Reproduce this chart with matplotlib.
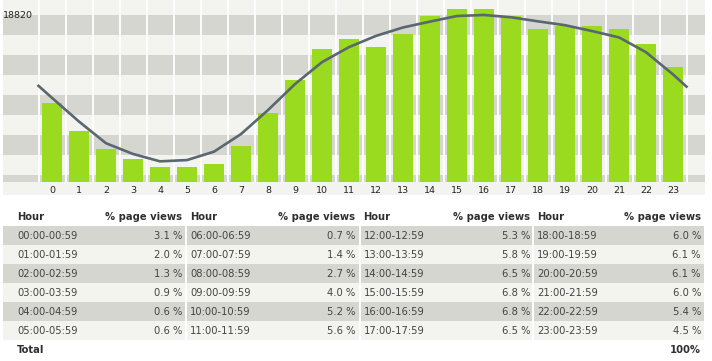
import matplotlib
matplotlib.use("Agg")
import matplotlib.pyplot as plt
from matplotlib.patches import Rectangle

# ---------------- data ----------------
hours = list(range(24))
hour_labels = [str(h) for h in hours]
hour_ranges = [f"{h:02d}:00-{h:02d}:59" for h in hours]
pct_views = [3.1, 2.0, 1.3, 0.9, 0.6, 0.6, 0.7, 1.4, 2.7, 4.0, 5.2, 5.6,
             5.3, 5.8, 6.5, 6.8, 6.8, 6.5, 6.0, 6.1, 6.1, 6.0, 5.4, 4.5]
# smoothed trend line, incl. wrap-around edge values
trend_edge_start = 3.77
trend_edge_end = 3.74
trend = [3.30, 2.37, 1.52, 1.10, 0.81, 0.86, 1.19, 1.88, 2.82, 3.84, 4.70, 5.29,
         5.73, 6.06, 6.29, 6.51, 6.55, 6.46, 6.30, 6.15, 5.92, 5.67, 5.09, 4.22]
max_label = "18820"
total_label = "100%"
header_hour = "Hour"
header_pct = "% page views"
total_text = "Total"

# ---------------- style ----------------
W, H = 712, 361
GREY = "#d6d6d0"
LIGHT = "#f3f3ef"
GREEN = "#9bdb1f"
LINE = "#5a6670"
TXT = "#444444"
HDR = "#2f2f2f"
plt.rcParams['font.family'] = ['DejaVu Sans']

fig = plt.figure(figsize=(W / 100, H / 100), dpi=100)
fig.patch.set_facecolor("white")


def fx(px):
    return px / W


def fy(py):
    return 1 - py / H


def frect(x0, y0, x1, y1, color, z=0):
    fig.add_artist(Rectangle((fx(x0), fy(y1)), fx(x1) - fx(x0), fy(y0) - fy(y1),
                             transform=fig.transFigure, facecolor=color,
                             edgecolor="none", zorder=z))


# ---------------- chart ----------------
ax_left, ax_right, ax_top, ax_bot = 3, 705, 0, 182
px_per_unit = 25.5          # pixels per percent
slot = 27.0                 # pixels per hour
first_center = 52.0
ax = fig.add_axes([fx(ax_left), fy(ax_bot), fx(ax_right) - fx(ax_left), fy(ax_top) - fy(ax_bot)])
xmin = -(first_center - ax_left) / slot
xmax = xmin + (ax_right - ax_left) / slot
ymax = (ax_bot - ax_top) / px_per_unit
ax.set_xlim(xmin, xmax)
ax.set_ylim(0, ymax)
ax.set_facecolor(LIGHT)
for s in ax.spines.values():
    s.set_visible(False)

# horizontal stripes (20 px each, first grey one starts 15 px below top)
stripe = 20 / px_per_unit
top = ymax - 15 / px_per_unit
i = 0
while top > 0:
    bottom = max(0, top - stripe)
    if i % 2 == 0:
        ax.axhspan(bottom, top, color=GREY, lw=0, zorder=0)
    top -= stripe
    i += 1

# vertical white separators at slot boundaries
for b in range(len(hours) + 1):
    ax.axvline(b - 0.5, color="white", lw=1.3, zorder=1)

ax.bar(hours, pct_views, width=20 / slot, color=GREEN, zorder=2)
ax.plot([-0.5] + hours + [len(hours) - 0.5],
        [trend_edge_start] + trend + [trend_edge_end],
        color=LINE, lw=1.9, zorder=3, solid_joinstyle="round")

ax.set_yticks([])
ax.set_xticks(hours)
ax.set_xticklabels(hour_labels, fontsize=6.8, color="#222222")
ax.tick_params(axis="x", length=0, pad=3)

# tick label strip background
frect(3, 182, 705, 195, LIGHT, z=-1)

fig.text(fx(3), fy(16), max_label, fontsize=6.8, color="#222222",
         ha="left", va="center")

# ---------------- table ----------------
hour_x = [17, 190, 363.5, 537]
pct_x = [182.5, 355.5, 530, 701]
header_y = 217.5
row_top = 226
row_h = 19
n_rows = 6

for r in range(n_rows):
    frect(3, row_top + r * row_h, 704, row_top + (r + 1) * row_h,
          GREY if r % 2 == 0 else LIGHT, z=-1)
for sx in [185.7, 360, 533.2]:
    frect(sx - 1, row_top, sx + 1, row_top + n_rows * row_h, "white", z=0)

FS = 7.2
for g in range(4):
    fig.text(fx(hour_x[g]), fy(header_y), header_hour, fontsize=FS,
             fontweight="bold", color=HDR, ha="left", va="center")
    fig.text(fx(pct_x[g]), fy(header_y), header_pct, fontsize=FS,
             fontweight="bold", color=HDR, ha="right", va="center")
    for r in range(n_rows):
        h = g * n_rows + r
        yc = row_top + r * row_h + row_h / 2 + 0.5
        fig.text(fx(hour_x[g]), fy(yc), hour_ranges[h], fontsize=FS,
                 color=TXT, ha="left", va="center")
        fig.text(fx(pct_x[g]), fy(yc), f"{pct_views[h]:.1f} %", fontsize=FS,
                 color=TXT, ha="right", va="center")

total_y = 350
fig.text(fx(hour_x[0]), fy(total_y), total_text, fontsize=FS, fontweight="bold",
         color=HDR, ha="left", va="center")
fig.text(fx(pct_x[3]), fy(total_y), total_label, fontsize=FS, fontweight="bold",
         color=HDR, ha="right", va="center")

fig.savefig("out.png", dpi=100, facecolor="white")
